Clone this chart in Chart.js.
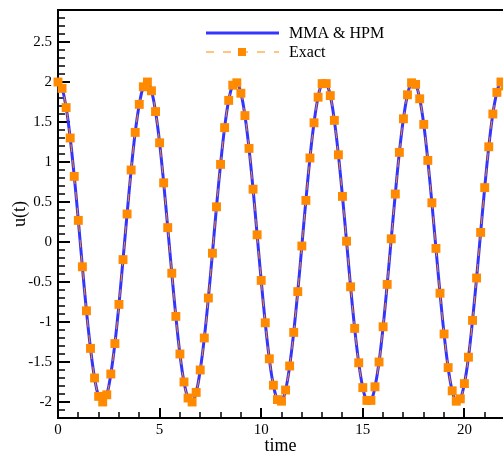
<!DOCTYPE html>
<html>
<head>
<meta charset="utf-8">
<script src="https://cdn.jsdelivr.net/npm/chart.js@4/dist/chart.umd.min.js"></script>
<style>
  html, body { margin: 0; padding: 0; background: #fff; }
  #wrap { width: 503px; height: 457px; }
</style>
</head>
<body>
<div id="wrap"><canvas id="myChart" width="503" height="457"></canvas></div>
<script>
// time samples (step 0.2)
var times = [0, 0.2, 0.4, 0.6, 0.8, 1, 1.2, 1.4, 1.6, 1.8, 2,
  2.2, 2.4, 2.6, 2.8, 3, 3.2, 3.4, 3.6, 3.8, 4,
  4.2, 4.4, 4.6, 4.8, 5, 5.2, 5.4, 5.6, 5.8, 6,
  6.2, 6.4, 6.6, 6.8, 7, 7.2, 7.4, 7.6, 7.8, 8,
  8.2, 8.4, 8.6, 8.8, 9, 9.2, 9.4, 9.6, 9.8, 10,
  10.2, 10.4, 10.6, 10.8, 11, 11.2, 11.4, 11.6, 11.8, 12,
  12.2, 12.4, 12.6, 12.8, 13, 13.2, 13.4, 13.6, 13.8, 14,
  14.2, 14.4, 14.6, 14.8, 15, 15.2, 15.4, 15.6, 15.8, 16,
  16.2, 16.4, 16.6, 16.8, 17, 17.2, 17.4, 17.6, 17.8, 18,
  18.2, 18.4, 18.6, 18.8, 19, 19.2, 19.4, 19.6, 19.8, 20,
  20.2, 20.4, 20.6, 20.8, 21, 21.2, 21.4, 21.6, 21.8, 22];

// exact solution (orange squares)
var exactU = [2.00, 1.92, 1.68, 1.30, 0.82, 0.27, -0.31, -0.86, -1.33, -1.70, -1.93,
  -2.00, -1.91, -1.65, -1.27, -0.78, -0.22, 0.35, 0.90, 1.37, 1.72, 1.94,
  2.00, 1.89, 1.63, 1.24, 0.74, 0.18, -0.39, -0.93, -1.40, -1.75, -1.95,
  -2.00, -1.88, -1.60, -1.20, -0.70, -0.14, 0.44, 0.97, 1.43, 1.77, 1.96,
  1.99, 1.86, 1.58, 1.17, 0.66, 0.09, -0.48, -1.01, -1.46, -1.79, -1.97,
  -1.99, -1.85, -1.55, -1.13, -0.62, -0.05, 0.52, 1.05, 1.49, 1.81, 1.98,
  1.98, 1.83, 1.52, 1.09, 0.57, 0.01, -0.56, -1.08, -1.51, -1.82, -1.98,
  -1.98, -1.81, -1.50, -1.06, -0.53, 0.04, 0.60, 1.12, 1.54, 1.84, 1.99,
  1.97, 1.79, 1.47, 1.02, 0.49, -0.08, -0.64, -1.15, -1.57, -1.86, -1.99,
  -1.96, -1.77, -1.44, -0.98, -0.45, 0.12, 0.68, 1.19, 1.60, 1.87, 2.00,
  1.95];

// MMA & HPM solution (blue line) - same curve as exact to the eye
var mmaHpmU = [2.00, 1.92, 1.68, 1.30, 0.82, 0.27, -0.31, -0.86, -1.33, -1.70, -1.93,
  -2.00, -1.91, -1.65, -1.27, -0.78, -0.22, 0.35, 0.90, 1.37, 1.72, 1.94,
  2.00, 1.89, 1.63, 1.24, 0.74, 0.18, -0.39, -0.93, -1.40, -1.75, -1.95,
  -2.00, -1.88, -1.60, -1.20, -0.70, -0.14, 0.44, 0.97, 1.43, 1.77, 1.96,
  1.99, 1.86, 1.58, 1.17, 0.66, 0.09, -0.48, -1.01, -1.46, -1.79, -1.97,
  -1.99, -1.85, -1.55, -1.13, -0.62, -0.05, 0.52, 1.05, 1.49, 1.81, 1.98,
  1.98, 1.83, 1.52, 1.09, 0.57, 0.01, -0.56, -1.08, -1.51, -1.82, -1.98,
  -1.98, -1.81, -1.50, -1.06, -0.53, 0.04, 0.60, 1.12, 1.54, 1.84, 1.99,
  1.97, 1.79, 1.47, 1.02, 0.49, -0.08, -0.64, -1.15, -1.57, -1.86, -1.99,
  -1.96, -1.77, -1.44, -0.98, -0.45, 0.12, 0.68, 1.19, 1.60, 1.87, 2.00,
  1.95];

var xTicks = [0, 5, 10, 15, 20];
var yTicks = [-2, -1.5, -1, -0.5, 0, 0.5, 1, 1.5, 2, 2.5];

var serif = "'Liberation Serif', 'Times New Roman', serif";

function pts(xs, ys) {
  var out = [];
  for (var i = 0; i < xs.length; i++) out.push({x: xs[i], y: ys[i]});
  return out;
}

// inward ticks + top frame line
var frameTicks = {
  id: 'frameTicks',
  beforeDatasetsDraw: function(chart) {
    var c = chart.ctx, a = chart.chartArea;
    var xs = chart.scales.x, ys = chart.scales.y;
    c.save();
    c.strokeStyle = '#000';
    c.lineWidth = 2;
    c.beginPath();
    c.moveTo(a.left - 1, a.top);
    c.lineTo(a.right, a.top);
    c.stroke();
    for (var i = 0; i <= 21; i++) {
      var px = Math.round(xs.getPixelForValue(i));
      var major = (i % 5 == 0);
      c.lineWidth = major ? 2 : 1.5;
      c.beginPath();
      c.moveTo(px, a.bottom);
      c.lineTo(px, a.bottom - (major ? 10 : 6));
      c.stroke();
    }
    for (var j = -22; j <= 29; j++) {
      var py = Math.round(ys.getPixelForValue(j / 10));
      var maj = (j % 5 == 0);
      c.lineWidth = maj ? 2 : 1.5;
      c.beginPath();
      c.moveTo(a.left, py);
      c.lineTo(a.left + (maj ? 12 : 7), py);
      c.stroke();
    }
    c.restore();
  }
};

// legend box drawn inside the plot
var plotLegend = {
  id: 'plotLegend',
  afterDraw: function(chart) {
    var c = chart.ctx;
    var blue = chart.data.datasets[1];
    var orange = chart.data.datasets[0];
    c.save();
    c.strokeStyle = blue.borderColor;
    c.lineWidth = 3;
    c.beginPath(); c.moveTo(206, 33); c.lineTo(279, 33); c.stroke();

    c.strokeStyle = orange.borderColor;
    c.lineWidth = 1;
    c.setLineDash([8, 9]);
    c.beginPath(); c.moveTo(206, 52); c.lineTo(279, 52); c.stroke();
    c.setLineDash([]);
    c.fillStyle = orange.pointBackgroundColor;
    c.fillRect(238, 48, 8, 8);

    c.fillStyle = '#000';
    c.font = '16px ' + serif;
    c.textBaseline = 'middle';
    c.fillText('MMA & HPM', 289, 34);
    c.fillText('Exact', 289, 53);
    c.restore();
  }
};

var ctx = document.getElementById('myChart').getContext('2d');
var myChart = new Chart(ctx, {
  type: 'line',
  data: {
    datasets: [{
      label: 'Exact',
      data: pts(times, exactU),
      borderColor: '#ff8a00',
      borderWidth: 1,
      borderDash: [8, 8],
      backgroundColor: '#ff8a00',
      pointStyle: 'rect',
      pointRadius: 6.3,
      pointBackgroundColor: '#ff8a00',
      pointBorderColor: '#ff8a00',
      pointBorderWidth: 0,
      tension: 0.4,
      clip: {left: 8, top: 8, right: 0, bottom: 8},
      order: 0
    }, {
      label: 'MMA & HPM',
      data: pts(times, mmaHpmU),
      borderColor: '#3434ff',
      borderWidth: 3,
      pointRadius: 0,
      tension: 0.4,
      clip: {left: 8, top: 8, right: 0, bottom: 8},
      order: 1
    }]
  },
  options: {
    responsive: false,
    animation: false,
    devicePixelRatio: 1,
    layout: { autoPadding: false, padding: { top: 10, right: 0, left: 0, bottom: 0 } },
    plugins: {
      legend: { display: false },
      tooltip: { enabled: false }
    },
    scales: {
      x: {
        type: 'linear',
        min: 0,
        max: 21.9,
        afterBuildTicks: function(s) { s.ticks = xTicks.map(function(v) { return {value: v}; }); },
        afterFit: function(s) { s.height = 39; s.paddingRight = 0; s.paddingLeft = 0; },
        grid: { drawOnChartArea: false, drawTicks: false },
        border: { display: true, color: '#000', width: 2 },
        ticks: { color: '#000', padding: 3, font: { family: serif, size: 15 }, maxRotation: 0,
          callback: function(v) { return String(v); } },
        title: { display: true, text: 'time', color: '#000', font: { family: serif, size: 18 }, padding: 0 }
      },
      y: {
        type: 'linear',
        min: -2.2,
        max: 2.9,
        afterBuildTicks: function(s) { s.ticks = yTicks.map(function(v) { return {value: v}; }); },
        afterFit: function(s) { s.width = 58; s.paddingTop = 0; s.paddingBottom = 0; },
        grid: { drawOnChartArea: false, drawTicks: false },
        border: { display: true, color: '#000', width: 2 },
        ticks: { color: '#000', padding: 6, font: { family: serif, size: 15 },
          callback: function(v) { return String(v); } },
        title: { display: true, text: 'u(t)', color: '#000', font: { family: serif, size: 18 }, padding: { top: 9, bottom: 0 } }
      }
    }
  },
  plugins: [frameTicks, plotLegend]
});
</script>
</body>
</html>
